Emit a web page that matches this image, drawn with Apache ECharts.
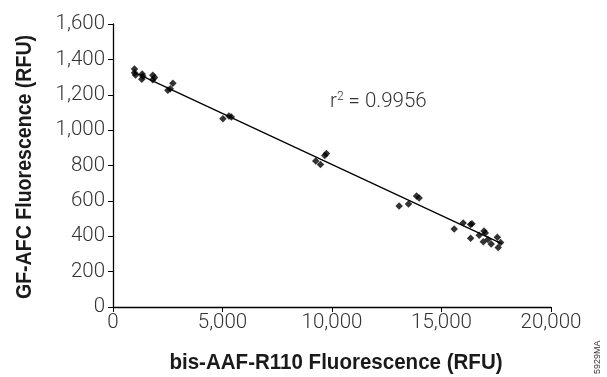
<!DOCTYPE html>
<html><head><meta charset="utf-8">
<script src="https://cdn.jsdelivr.net/npm/echarts@6/dist/echarts.min.js"></script>
<style>html,body{margin:0;padding:0;background:#fff}#c{width:607px;height:377px}</style>
</head><body><div id="c"></div>
<script>
const xValues = [983, 983, 1029, 1333, 1363, 1317, 1819, 1897, 1819, 2505, 2615, 2735,
  5020, 5294, 5403,
  9257, 9472, 9669, 9746,
  13065, 13494, 13860, 13979,
  15580, 15990, 16330, 16390, 16330, 16720, 16940, 17000, 16910, 17120, 17270, 17550, 17700, 17590];
const yValues = [1345, 1325, 1312, 1318, 1305, 1288, 1310, 1298, 1285, 1225, 1234, 1265,
  1065, 1080, 1074,
  825, 805, 857, 868,
  571, 582, 627, 616,
  441, 475, 467, 471, 388, 405, 429, 418, 369, 381, 356, 395, 364, 336];
const trendX = [950, 17750];
const trendY = [1328, 358];
const xTicks = [0, 5000, 10000, 15000, 20000];
const yTicks = [0, 200, 400, 600, 800, 1000, 1200, 1400, 1600];
const r2Label = '0.9956';
const xTitle = 'bis-AAF-R110 Fluorescence (RFU)';
const yTitle = 'GF-AFC Fluorescence (RFU)';

const pts = xValues.map((x, i) => [x, yValues[i]]);
const line = trendX.map((x, i) => [x, trendY[i]]);
const fmt = v => v.toLocaleString('en-US');
const tickFont = {fontFamily: 'Roboto', fontWeight: 300, fontSize: 20.5, color: '#333'};
const titleStyle = {fontFamily: 'Liberation Sans', fontWeight: 'bold', fontSize: 21.5, fill: '#1a1a1a',
  align: 'center', verticalAlign: 'middle'};

const chart = echarts.init(document.getElementById('c'));
chart.setOption({
  animation: false,
  grid: {left: 113, right: 56, top: 24, bottom: 70},
  xAxis: {
    type: 'value', min: xTicks[0], max: xTicks[xTicks.length - 1], interval: 5000,
    axisLine: {show: true, lineStyle: {color: '#000', width: 1.3}},
    axisTick: {show: true, length: 5, lineStyle: {color: '#000'}},
    splitLine: {show: false},
    axisLabel: Object.assign({formatter: fmt, margin: 5}, tickFont)
  },
  yAxis: {
    type: 'value', min: yTicks[0], max: yTicks[yTicks.length - 1], interval: 200,
    axisLine: {show: true, lineStyle: {color: '#000', width: 1.3}},
    axisTick: {show: true, length: 5, lineStyle: {color: '#000'}},
    splitLine: {show: false},
    axisLabel: Object.assign({formatter: fmt, margin: 8}, tickFont)
  },
  series: [
    {type: 'scatter', data: pts, symbol: 'diamond', symbolSize: 7.5, itemStyle: {color: '#000'}, z: 3},
    {type: 'line', data: line, showSymbol: false, symbol: 'none', lineStyle: {color: '#000', width: 1.3}, z: 2}
  ],
  graphic: [
    {type: 'text', x: 336, y: 363, scaleX: 0.955, style: Object.assign({text: xTitle}, titleStyle)},
    {type: 'text', x: 25.5, y: 167, rotation: Math.PI / 2, scaleX: 0.91, style: Object.assign({text: yTitle}, titleStyle)},
    {type: 'text', left: 330, top: 91, style: {
      text: '{b|r}{s|2}{b| = ' + r2Label + '}',
      rich: {
        b: {fontFamily: 'Roboto', fontWeight: 300, fontSize: 20.5, fill: '#333', color: '#333'},
        s: {fontFamily: 'Roboto', fontWeight: 300, fontSize: 12, fill: '#333', color: '#333', verticalAlign: 'top', padding: [0, 0, 8, 0]}
      }}},
    {type: 'text', x: 593, y: 374, rotation: Math.PI / 2, style: {
      text: '5929MA', fontFamily: 'Liberation Sans', fontSize: 9, fill: '#333'}}
  ]
});
</script></body></html>
